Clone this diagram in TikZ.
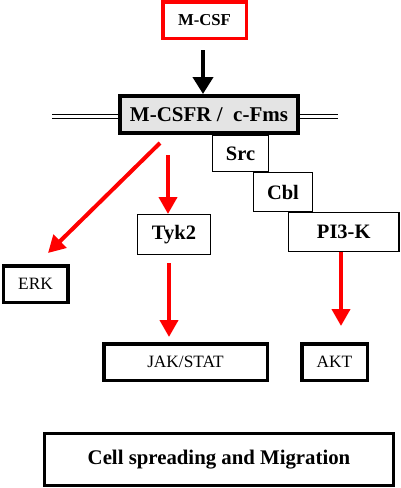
\documentclass[tikz,border=0pt]{standalone}
\usepackage{fontspec}
\setmainfont{Liberation Serif}
\usetikzlibrary{arrows.meta}
\definecolor{boxgray}{RGB}{228,228,228}
\definecolor{sigred}{RGB}{255,0,0}
\tikzset{
  box/.style={draw=black, rectangle, inner sep=0pt, align=center, text=black},
  thickbox/.style={box, line width=3.5pt},
  thinbox/.style={box, line width=1.3pt, fill=white},
  boldlbl/.style={font=\bfseries\fontsize{20.5}{24}\selectfont},
  reglbl/.style={font=\fontsize{17.3}{20}\selectfont},
  redarr/.style={draw=sigred, line width=4pt, -{Triangle[width=18pt,length=17pt]}},
  blackarr/.style={draw=black, line width=4pt, -{Triangle[width=20pt,length=17pt]}},
  membrane/.style={draw=black, double=white, line width=1pt, double distance=2.6pt}
}
\begin{document}
\begin{tikzpicture}[x=1pt,y=-1pt]
\useasboundingbox (0,0) rectangle (400,488);
\fill[white] (0,0) rectangle (400,488);

% ligand
\node[box, draw=sigred, line width=3.5pt, minimum width=83.5pt, minimum height=36.5pt,
      font=\bfseries\fontsize{16.7}{20}\selectfont] (mcsf) at (204.5,20) {M-CSF};

% adaptor chain (drawn before receptor so the receptor covers their tops)
\node[thinbox, boldlbl, minimum width=55.7pt, minimum height=35.7pt] (src) at (240.5,153.5) {Src};
\node[thinbox, boldlbl, minimum width=58.7pt, minimum height=38.7pt] (cbl) at (283,192) {Cbl};
\node[thinbox, boldlbl, minimum width=110.2pt, minimum height=38.7pt] (pi3k) at (343.75,232) {PI3-K};

% receptor
\node[box, fill=boxgray, line width=4pt, minimum width=178pt, minimum height=37pt,
      font=\bfseries\fontsize{21}{24}\selectfont] (mcsfr) at (209,114.5) {M-CSFR /\ \ c-Fms};

% membrane
\coordinate (memL) at (52,116.5);
\coordinate (memR) at (338,116.5);
\draw[membrane] (memL) -- (memL -| mcsfr.west);
\draw[membrane] (mcsfr.east |- memR) -- (memR);

% other nodes
\node[thinbox, boldlbl, minimum width=72.7pt, minimum height=39.7pt] (tyk2) at (174,234.5) {Tyk2};
\node[thickbox, reglbl, minimum width=64.5pt, minimum height=36.5pt] (erk) at (35.5,284) {ERK};
\node[thickbox, reglbl, minimum width=163.5pt, minimum height=36.5pt] (jak) at (185.5,362) {JAK/STAT};
\node[thickbox, reglbl, minimum width=65.5pt, minimum height=36.5pt] (akt) at (334.5,362) {AKT};
\node[box, line width=3pt, minimum width=349pt, minimum height=51.5pt,
      font=\bfseries\fontsize{20.8}{24}\selectfont] (cell) at (219,459.5) {Cell spreading and Migration};

% arrows
\coordinate (b1) at (203,50);
\draw[blackarr] (b1) -- (b1 |- mcsfr.north) ;

\coordinate (d1) at (160,143);
\coordinate (d2) at (48,253);
\draw[redarr] (d1) -- (d2);

\coordinate (t1) at (168,155);
\draw[redarr] (t1) -- (t1 |- tyk2.north);

\coordinate (j1) at (169,263);
\coordinate (j2) at (169,337);
\draw[redarr] (j1) -- (j2);

\coordinate (a1) at (341,252);
\coordinate (a2) at (341,326);
\draw[redarr] (a1 |- pi3k.south) -- (a2);
\end{tikzpicture}
\end{document}
